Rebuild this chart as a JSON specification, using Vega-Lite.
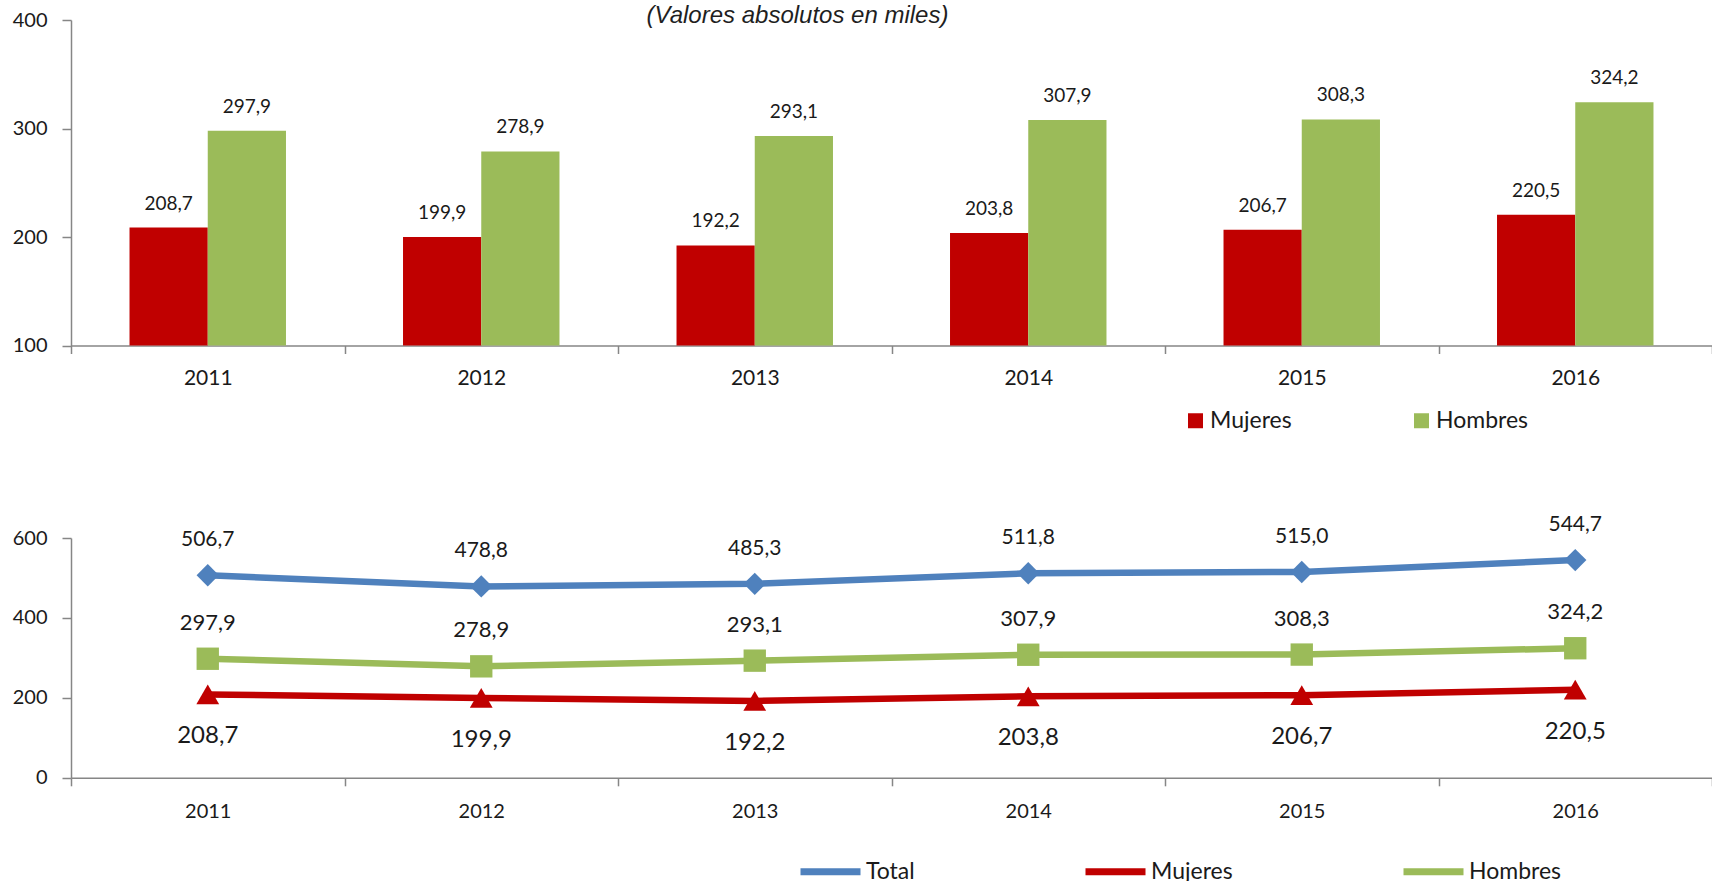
{
  "$schema": "https://vega.github.io/schema/vega-lite/v6.json",
  "background": "white",
  "padding": {"left": 12, "top": 4, "right": 0, "bottom": 0},
  "datasets": {
    "bars": [
      {"year": "2011", "sexo": "Mujeres", "value": 208.7},
      {"year": "2011", "sexo": "Hombres", "value": 297.9},
      {"year": "2012", "sexo": "Mujeres", "value": 199.9},
      {"year": "2012", "sexo": "Hombres", "value": 278.9},
      {"year": "2013", "sexo": "Mujeres", "value": 192.2},
      {"year": "2013", "sexo": "Hombres", "value": 293.1},
      {"year": "2014", "sexo": "Mujeres", "value": 203.8},
      {"year": "2014", "sexo": "Hombres", "value": 307.9},
      {"year": "2015", "sexo": "Mujeres", "value": 206.7},
      {"year": "2015", "sexo": "Hombres", "value": 308.3},
      {"year": "2016", "sexo": "Mujeres", "value": 220.5},
      {"year": "2016", "sexo": "Hombres", "value": 324.2}
    ],
    "lines": [
      {"year": "2011", "serie": "Total", "value": 506.7},
      {"year": "2012", "serie": "Total", "value": 478.8},
      {"year": "2013", "serie": "Total", "value": 485.3},
      {"year": "2014", "serie": "Total", "value": 511.8},
      {"year": "2015", "serie": "Total", "value": 515.0},
      {"year": "2016", "serie": "Total", "value": 544.7},
      {"year": "2011", "serie": "Mujeres", "value": 208.7},
      {"year": "2012", "serie": "Mujeres", "value": 199.9},
      {"year": "2013", "serie": "Mujeres", "value": 192.2},
      {"year": "2014", "serie": "Mujeres", "value": 203.8},
      {"year": "2015", "serie": "Mujeres", "value": 206.7},
      {"year": "2016", "serie": "Mujeres", "value": 220.5},
      {"year": "2011", "serie": "Hombres", "value": 297.9},
      {"year": "2012", "serie": "Hombres", "value": 278.9},
      {"year": "2013", "serie": "Hombres", "value": 293.1},
      {"year": "2014", "serie": "Hombres", "value": 307.9},
      {"year": "2015", "serie": "Hombres", "value": 308.3},
      {"year": "2016", "serie": "Hombres", "value": 324.2}
    ]
  },
  "vconcat": [
    {
      "width": 1641,
      "height": 325.5,
      "title": {
        "text": "(Valores absolutos en miles)",
        "font": "Liberation Sans",
        "fontStyle": "italic",
        "fontWeight": "normal",
        "fontSize": 24,
        "color": "#1F1F1F",
        "anchor": "middle",
        "baseline": "middle",
        "dx": -94,
        "offset": -30
      },
      "data": {"name": "bars"},
      "encoding": {
        "x": {
          "field": "year", "type": "nominal",
          "scale": {"paddingInner": 0, "paddingOuter": 0},
          "axis": {
            "title": null, "labelAngle": 0, "tickBand": "extent",
            "tickSize": 8, "tickColor": "#868686", "tickWidth": 1.5,
            "domainColor": "#868686", "domainWidth": 1.5,
            "labelFont": "Lato", "labelFontSize": 21, "labelColor": "#1A1A1A",
            "labelPadding": 14
          }
        },
        "xOffset": {
          "field": "sexo", "type": "nominal", "sort": ["Mujeres", "Hombres"],
          "scale": {"paddingInner": 0, "paddingOuter": 0.748}
        },
        "y": {
          "field": "value", "type": "quantitative",
          "scale": {"domain": [100, 400], "zero": false, "nice": false},
          "axis": {
            "title": null, "values": [100, 200, 300, 400], "grid": false,
            "tickSize": 9, "tickColor": "#868686", "tickWidth": 1.5,
            "domainColor": "#868686", "domainWidth": 1.5,
            "labelFont": "Lato", "labelFontSize": 20, "labelColor": "#1A1A1A",
            "labelPadding": 15
          }
        }
      },
      "layer": [
        {
          "mark": {"type": "bar", "clip": true},
          "encoding": {
            "color": {
              "field": "sexo", "type": "nominal",
              "scale": {"domain": ["Mujeres", "Hombres"], "range": ["#C00000", "#9BBB59"]},
              "legend": {
                "title": null, "orient": "none", "direction": "horizontal",
                "legendX": 1113, "legendY": 389,
                "symbolType": "square", "symbolSize": 225, "symbolStrokeWidth": 0,
                "labelFont": "Lato", "labelFontSize": 23, "labelColor": "#1A1A1A",
                "labelOffset": 3, "columnPadding": 118
              }
            }
          }
        },
        {
          "mark": {"type": "text", "dy": -24, "baseline": "middle", "font": "Lato", "fontSize": 19, "color": "#1A1A1A"},
          "encoding": {"text": {"field": "value", "type": "quantitative", "format": ".1f"}}
        }
      ]
    },
    {
      "width": 1641,
      "height": 239.8,
      "data": {"name": "lines"},
      "encoding": {
        "x": {
          "field": "year", "type": "nominal", "bandPosition": 0.5,
          "scale": {"type": "band", "paddingInner": 0, "paddingOuter": 0},
          "axis": {
            "title": null, "labelAngle": 0, "tickBand": "extent",
            "tickSize": 8, "tickColor": "#868686", "tickWidth": 1.5,
            "domainColor": "#868686", "domainWidth": 1.5,
            "labelFont": "Lato", "labelFontSize": 20, "labelColor": "#1A1A1A",
            "labelPadding": 16
          }
        },
        "y": {
          "field": "value", "type": "quantitative",
          "scale": {"domain": [0, 600], "nice": false},
          "axis": {
            "title": null, "values": [0, 200, 400, 600], "grid": false,
            "tickSize": 9, "tickColor": "#868686", "tickWidth": 1.5,
            "domainColor": "#868686", "domainWidth": 1.5,
            "labelFont": "Lato", "labelFontSize": 20, "labelColor": "#1A1A1A",
            "labelPadding": 15
          }
        }
      },
      "layer": [
        {
          "mark": {"type": "line", "strokeWidth": 6.5},
          "encoding": {
            "color": {
              "field": "serie", "type": "nominal",
              "scale": {"domain": ["Total", "Mujeres", "Hombres"], "range": ["#4F81BD", "#C00000", "#9BBB59"]},
              "legend": {
                "title": null, "orient": "none", "direction": "horizontal",
                "legendX": 726, "legendY": 300,
                "symbolType": "stroke", "symbolSize": 3600, "symbolStrokeWidth": 7,
                "labelFont": "Lato", "labelFontSize": 23, "labelColor": "#1A1A1A",
                "labelOffset": 2, "columnPadding": 156
              }
            }
          }
        },
        {
          "transform": [{"filter": "datum.serie === 'Total'"}],
          "mark": {"type": "point", "shape": "diamond", "filled": true, "opacity": 1, "size": 500},
          "encoding": {"color": {"field": "serie", "type": "nominal", "legend": null}}
        },
        {
          "transform": [{"filter": "datum.serie === 'Mujeres'"}],
          "mark": {"type": "point", "shape": "triangle-up", "filled": true, "opacity": 1, "size": 520},
          "encoding": {"color": {"field": "serie", "type": "nominal", "legend": null}}
        },
        {
          "transform": [{"filter": "datum.serie === 'Hombres'"}],
          "mark": {"type": "point", "shape": "square", "filled": true, "opacity": 1, "size": 500},
          "encoding": {"color": {"field": "serie", "type": "nominal", "legend": null}}
        },
        {
          "transform": [{"filter": "datum.serie === 'Total'"}],
          "mark": {"type": "text", "dy": -35, "baseline": "middle", "font": "Lato", "fontSize": 21, "color": "#1A1A1A"},
          "encoding": {"text": {"field": "value", "type": "quantitative", "format": ".1f"}}
        },
        {
          "transform": [{"filter": "datum.serie === 'Hombres'"}],
          "mark": {"type": "text", "dy": -36, "baseline": "middle", "font": "Lato", "fontSize": 22, "color": "#1A1A1A"},
          "encoding": {"text": {"field": "value", "type": "quantitative", "format": ".1f"}}
        },
        {
          "transform": [{"filter": "datum.serie === 'Mujeres'"}],
          "mark": {"type": "text", "dy": 42, "baseline": "middle", "font": "Lato", "fontSize": 24, "color": "#1A1A1A"},
          "encoding": {"text": {"field": "value", "type": "quantitative", "format": ".1f"}}
        }
      ]
    }
  ],
  "spacing": 192,
  "bounds": "flush",
  "resolve": {"scale": {"color": "independent"}},
  "config": {
    "view": {"stroke": null},
    "font": "Lato",
    "locale": {"number": {"decimal": ",", "thousands": ".", "grouping": [3], "currency": ["", " €"]}}
  }
}
